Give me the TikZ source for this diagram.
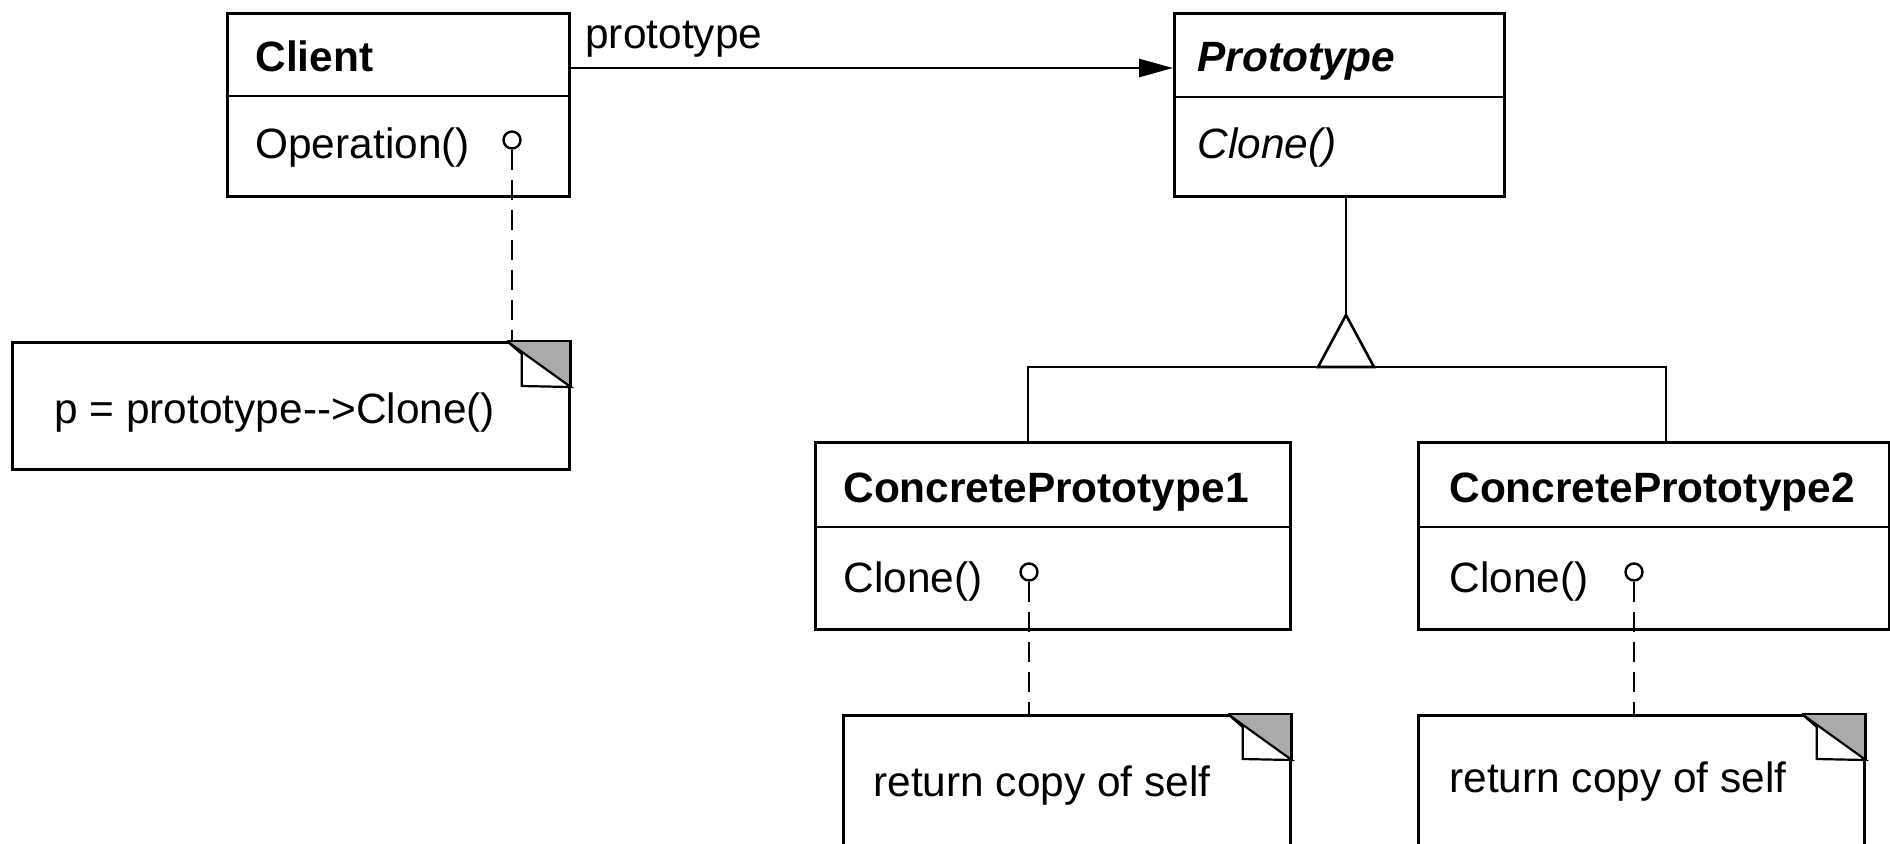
\documentclass[tikz,border=0pt]{standalone}
\usepackage{fontspec}
\setmainfont{Liberation Sans}
\usetikzlibrary{arrows.meta}
\newcommand\dogear[1]{%
  \begin{scope}[shift={(#1.north east)}]
    \fill[foldgray] (-64,0) -- (0,0) -- (0,46) -- cycle;
    \draw[line width=1.1pt, fill=white, line join=miter] (-64,0) -- (-49,13) -- (-49,45) -- (0,46) -- cycle;
    \draw[line width=1.4pt] (-64,0) -- (0,0) -- (0,46);
  \end{scope}}
\definecolor{foldgray}{RGB}{170,170,170}
\begin{document}
\begin{tikzpicture}[x=0.5pt,y=-0.5pt,
  cls/.style={draw, line width=1.4pt, inner sep=0pt, anchor=north west},
  sepline/.style={line width=1.1pt},
  txt/.style={anchor=base west, inner sep=0pt, font=\fontsize{21.2pt}{25pt}\selectfont},
  conn/.style={line width=1.3pt},
  dep/.style={line width=1.3pt, dash pattern=on 10pt off 5pt},
  knob/.style={circle, draw, fill=white, line width=1.2pt, minimum size=8.5pt, inner sep=0pt},
  notebox/.style={draw, line width=1.4pt, fill=white, inner sep=0pt, anchor=north west},
]
\clip (0,0) rectangle (1890,843);
\fill[white] (0,0) rectangle (1890,843);

% classes
\node[cls, minimum width=171pt, minimum height=91.5pt] (client) at (226,12) {};
\draw[sepline] (226,96) -- (568,96);
\node[txt, font=\fontsize{21.2pt}{25pt}\selectfont\bfseries] (clientname) at (255,71) {Client};
\node[txt] (clientop) at (255,158) {Operation()};

\node[cls, minimum width=165pt, minimum height=91.5pt] (proto) at (1173,12) {};
\draw[sepline] (1173,97) -- (1503,97);
\node[txt, font=\fontsize{21.2pt}{25pt}\selectfont\bfseries\itshape] (protoname) at (1197,71) {Prototype};
\node[txt, font=\fontsize{21.2pt}{25pt}\selectfont\itshape] (protoop) at (1197,158) {Clone()};

\node[cls, minimum width=237.5pt, minimum height=93.5pt] (cp1) at (814,441) {};
\draw[sepline] (814,527) -- (1289,527);
\node[txt, font=\fontsize{21.2pt}{25pt}\selectfont\bfseries] (cp1name) at (843,502) {ConcretePrototype1};
\node[txt] (cp1op) at (843,592) {Clone()};

\node[cls, minimum width=235.5pt, minimum height=93.5pt] (cp2) at (1417,441) {};
\draw[sepline] (1417,527) -- (1888,527);
\node[txt, font=\fontsize{21.2pt}{25pt}\selectfont\bfseries] (cp2name) at (1449,502) {ConcretePrototype2};
\node[txt] (cp2op) at (1449,592) {Clone()};

% notes
\node[notebox, minimum width=278.5pt, minimum height=63.5pt] (cnote) at (11,341) {};
\dogear{cnote}
\node[txt] (cnotetext) at (54,423) {p = prototype-{}->Clone()};

\node[notebox, minimum width=223.5pt, minimum height=100pt] (note1) at (842,714) {};
\dogear{note1}
\node[txt] (note1text) at (873,796) {return copy of self};

\node[notebox, minimum width=223pt, minimum height=100pt] (note2) at (1417,714) {};
\dogear{note2}
\node[txt] (note2text) at (1449,792) {return copy of self};

% knobs and dependency lines
\node[knob] (k1) at (512,140) {};
\node[knob] (k2) at (1029,572) {};
\node[knob] (k3) at (1634,572) {};
\draw[dep] (k1.south) -- (k1.south |- cnote.north);
\draw[dep] (k2.south) -- (k2.south |- note1.north);
\draw[dep] (k3.south) -- (k3.south |- note2.north);

% association
\draw[conn, -{Triangle[length=17pt,width=9pt]}] ([yshift=-28pt]client.north east) -- ([yshift=-28pt]proto.north west);
\node[txt] (assoclabel) at (585,48) {prototype};

% inheritance
\coordinate (apex) at (1346,315);
\coordinate (bar) at (1346,367);
\draw[conn] (apex |- proto.south) -- (apex);
\draw[conn] ([xshift=107pt]cp1.north west) |- (bar) -| ([xshift=124.5pt]cp2.north west);
\draw[conn, fill=white, line join=miter] (apex) -- ++(-28,52) -- ++(56,0) -- cycle;
\end{tikzpicture}
\end{document}
